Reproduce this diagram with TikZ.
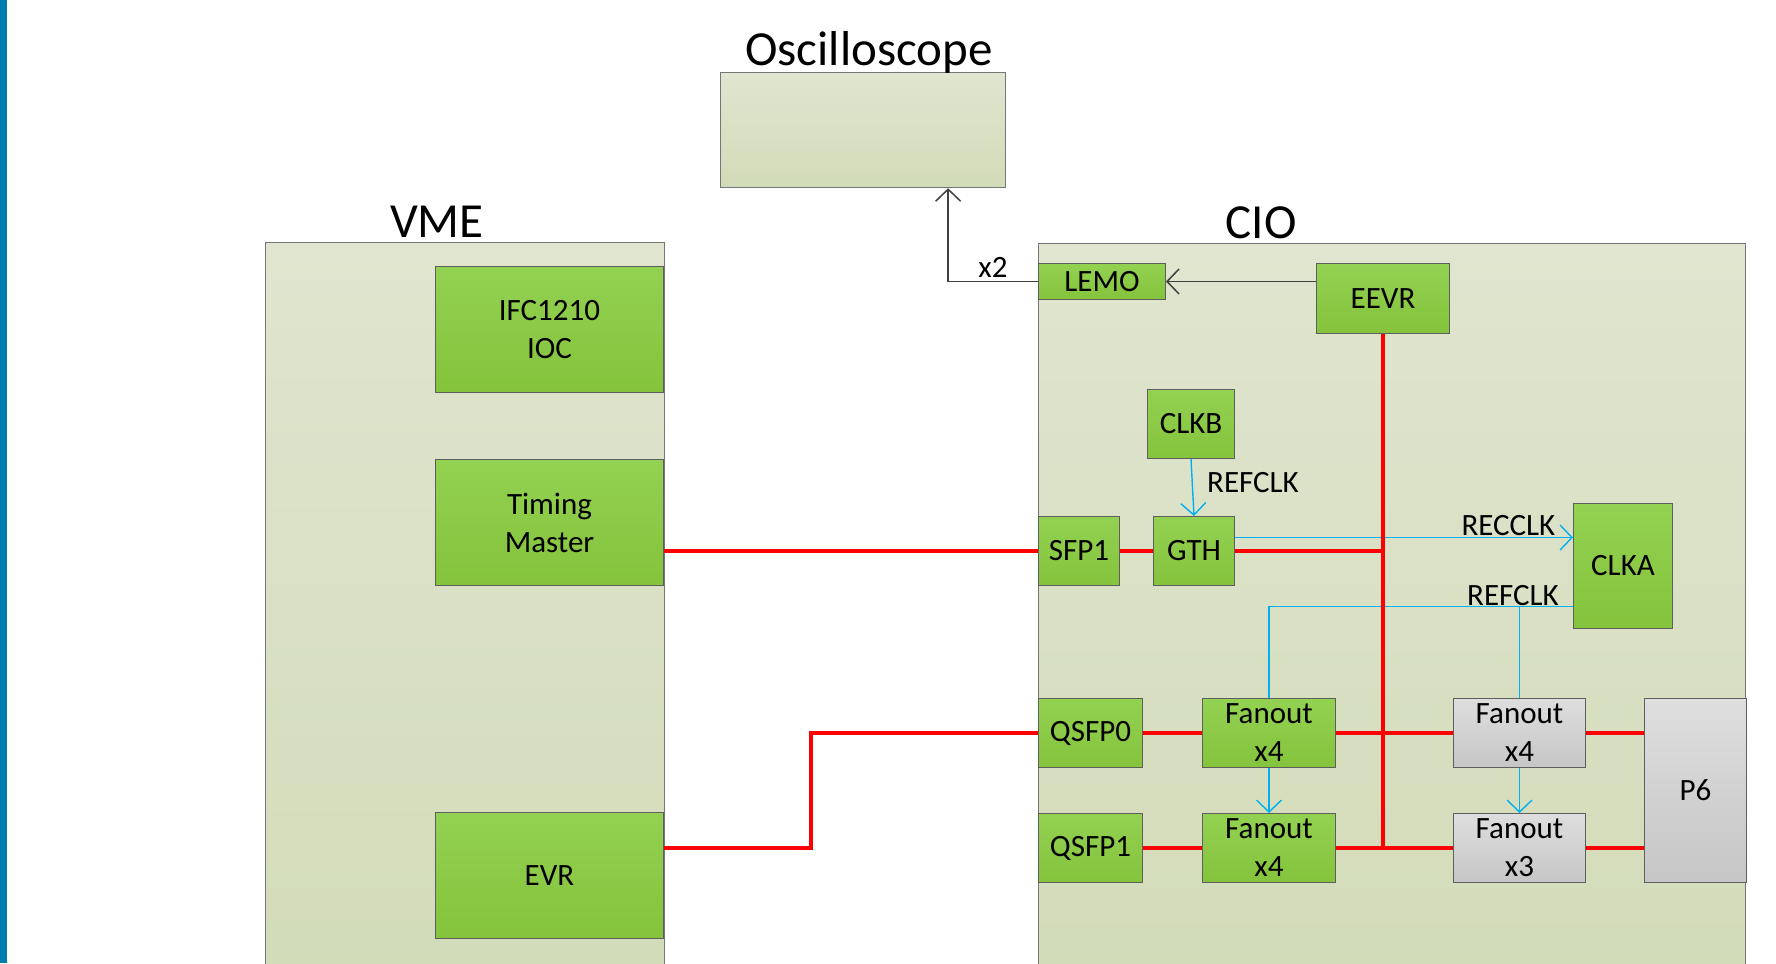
\documentclass[tikz,border=0pt]{standalone}
\usepackage{fontspec}
\setmainfont{Carlito}
\usepackage{tikz}
\usetikzlibrary{arrows.meta,positioning}

\definecolor{leafA}{HTML}{93D152}
\definecolor{leafB}{HTML}{84C33B}
\definecolor{panelA}{HTML}{E0E5CF}
\definecolor{panelB}{HTML}{D2DBB8}
\definecolor{ashA}{HTML}{DEDEDE}
\definecolor{ashB}{HTML}{C6C6C6}
\definecolor{rim}{HTML}{5E5E5E}
\definecolor{sigred}{HTML}{FF0000}
\definecolor{clkblue}{HTML}{00B0F0}
\definecolor{barblue}{HTML}{007DAF}

\newcommand{\boxfont}{\fontsize{31}{38}\selectfont}
\newcommand{\headfont}{\fontsize{49}{56}\selectfont}

\begin{document}
\begin{tikzpicture}[x=1pt,y=-1pt,>={Straight Barb[length=12pt,width=25pt]}]
  \tikzstyle{panel}=[draw=rim!85,line width=1.2pt,top color=panelA,bottom color=panelB,inner sep=0pt,anchor=north west]
  \tikzstyle{block}=[draw=rim,line width=1pt,top color=leafA,bottom color=leafB,inner sep=0pt,align=center,font=\boxfont,anchor=north west]
  \tikzstyle{ashblock}=[block,top color=ashA,bottom color=ashB]
  \tikzstyle{head}=[font=\headfont,inner sep=0pt,anchor=base]
  \tikzstyle{lbl}=[font=\boxfont,inner sep=1pt]
  \tikzstyle{redline}=[draw=sigred,line width=3.2pt]
  \tikzstyle{clkline}=[draw=clkblue,line width=1.4pt]
  \tikzstyle{ctlline}=[draw=black!75,line width=1.5pt]

  \useasboundingbox (0,0) rectangle (1776,963);
  \clip (0,0) rectangle (1776,963);
  \fill[barblue] (0,0) rectangle (7,963);

  % frames
  \node[panel,minimum width=285pt,minimum height=115pt] (osc) at (720,72) {};
  \node[panel,minimum width=399pt,minimum height=760pt] (vme) at (265,242) {};
  \node[panel,minimum width=707pt,minimum height=760pt] (cio) at (1038,243) {};

  \node[head] (osctitle) at (869,66) {Oscilloscope};
  \node[head] (vmetitle) at (437,237) {VME};
  \node[head] (ciotitle) at (1261,238) {CIO};

  % VME crate
  \node[block,minimum width=228pt,minimum height=126pt] (ifc) at (435,266) {IFC1210\\IOC};
  \node[block,minimum width=228pt,minimum height=126pt] (tm)  at (435,459) {Timing\\Master};
  \node[block,minimum width=228pt,minimum height=126pt] (evr) at (435,812) {EVR};

  % CIO board
  \node[block,minimum width=127pt,minimum height=36pt]  (lemo)  at (1038,263) {LEMO};
  \node[block,minimum width=133pt,minimum height=70pt]  (eevr)  at (1316,263) {EEVR};
  \node[block,minimum width=87pt,minimum height=69pt]   (clkb)  at (1147,389) {CLKB};
  \node[block,minimum width=81pt,minimum height=69pt]   (sfp1)  at (1038,516) {SFP1};
  \node[block,minimum width=81pt,minimum height=69pt]   (gth)   at (1153,516) {GTH};
  \node[block,minimum width=99pt,minimum height=125pt]  (clka)  at (1573,503) {CLKA};
  \node[block,minimum width=104pt,minimum height=69pt]  (qsfp0) at (1038,698) {QSFP0};
  \node[block,minimum width=104pt,minimum height=69pt]  (qsfp1) at (1038,813) {QSFP1};
  \node[block,minimum width=133pt,minimum height=69pt]  (fanA)  at (1202,698) {Fanout\\x4};
  \node[block,minimum width=133pt,minimum height=69pt]  (fanB)  at (1202,813) {Fanout\\x4};
  \node[ashblock,minimum width=132pt,minimum height=69pt] (fanC) at (1453,698) {Fanout\\x4};
  \node[ashblock,minimum width=132pt,minimum height=69pt] (fanD) at (1453,813) {Fanout\\x3};
  \node[ashblock,minimum width=102pt,minimum height=184pt] (p6)  at (1644,698) {P6};

  % trigger outputs
  \draw[ctlline,->] (eevr.west |- lemo.east) -- (lemo.east);
  \coordinate (scopein) at ([xshift=85pt]osc.south);
  \draw[ctlline,->] (lemo.west) -| node[lbl,pos=0.25,above,inner sep=3pt] {x2} (scopein);

  % clocks
  \draw[clkline,->] (clkb.south) -- node[lbl,anchor=west,xshift=13pt,yshift=5pt] {REFCLK} (gth.north);
  \draw[clkline,->] ([yshift=13.5pt]gth.east) coordinate (recout) -- (recout -| clka.west)
    node[lbl,anchor=south east,xshift=-16pt] {RECCLK};
  \draw[clkline] ([yshift=-40.5pt]clka.west) coordinate (refout) -| (fanA.north);
  \draw[clkline] (refout -| fanC.north) -- (fanC.north);
  \node[lbl,anchor=south east] (reflbl) at ([xshift=-13pt]refout) {REFCLK};
  \draw[clkline,->] (fanA.south) -- (fanB.north);
  \draw[clkline,->] (fanC.south) -- (fanD.north);

  % event links
  \coordinate (jog) at (811,0);
  \draw[redline] (tm.east |- sfp1.west) -- (sfp1.west);
  \draw[redline] (evr.east |- qsfp1.west) -| (jog |- qsfp0.west) -- (qsfp0.west);
  \draw[redline] (sfp1.east) -- (gth.west);
  \draw[redline] (eevr.south) -- (eevr.south |- fanB.east);
  \draw[redline] (gth.east) -- (gth.east -| eevr.south);
  \draw[redline] (qsfp0.east) -- (fanA.west);
  \draw[redline] (fanA.east) -- (fanC.west);
  \draw[redline] (fanC.east) -- (fanC.east -| p6.west);
  \draw[redline] (qsfp1.east) -- (fanB.west);
  \draw[redline] (fanB.east) -- (fanD.west);
  \draw[redline] (fanD.east) -- (fanD.east -| p6.west);
\end{tikzpicture}
\end{document}
